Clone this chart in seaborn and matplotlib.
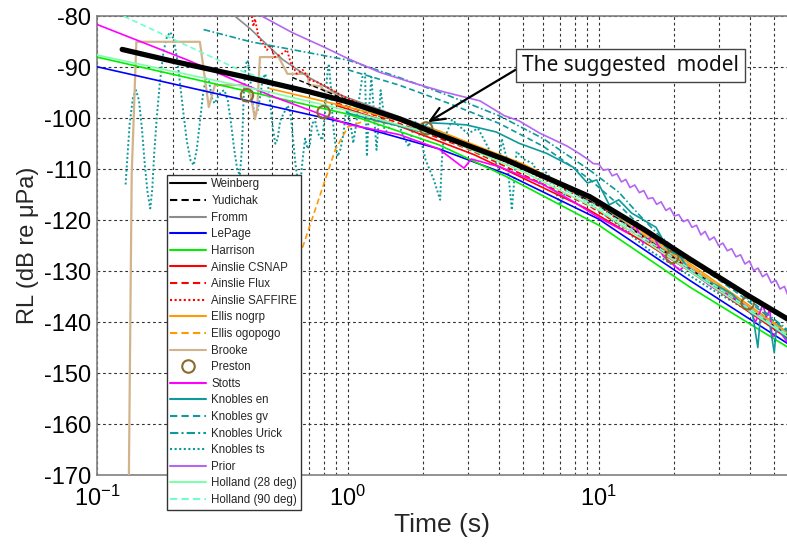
import numpy as np
import pandas as pd
import matplotlib
matplotlib.use("Agg")
import matplotlib.pyplot as plt
import seaborn as sns
from matplotlib.lines import Line2D
from matplotlib.ticker import LogLocator, NullFormatter

# ---------------- data (time in s, RL in dB) ----------------
weinberg_t = [0.126, 0.2, 0.407, 0.7, 1.0, 1.6, 2.32, 4.28, 9.2, 15, 23, 40, 56.5]
weinberg_rl = [-86.5, -88.8, -92.1, -94.8, -96.8, -100.1, -103.3, -108.2, -115.4, -121.7, -127.6, -135.0, -139.4]

yudichak_t = [0.6, 1.0, 2.0, 5.0, 10, 23, 56.5]
yudichak_rl = [-92.0, -96.5, -101.5, -109.5, -117.2, -129.5, -142.6]

fromm_t = [0.355, 0.407, 0.55, 0.7, 0.928, 1.5, 2.3, 5.0, 10, 23, 56.5]
fromm_rl = [-80.0, -82.4, -88.5, -92.0, -95.4, -99.2, -102.5, -109.5, -117.0, -129.5, -142.5]

lepage_t = [0.1, 1.0, 2.3, 4.3, 10, 23, 56.5]
lepage_rl = [-89.9, -101.0, -106.0, -111.0, -119.8, -131.8, -144.2]

harrison_t = [0.1, 1.0, 2.3, 4.3, 10, 23, 56.5]
harrison_rl = [-88.0, -99.2, -105.2, -111.5, -121.0, -133.1, -144.9]

csnap_t = [0.9, 1.5, 3.2, 9.0, 16, 23, 56.5]
csnap_rl = [-97.5, -101.0, -107.2, -117.8, -125.0, -130.0, -143.2]

flux_t = [0.9, 1.5, 3.0, 9.0, 16, 23, 56.5]
flux_rl = [-97.0, -100.5, -106.0, -117.0, -124.5, -129.5, -142.8]

saffire_t = [0.414, 0.42, 0.426, 0.44, 0.476, 0.49, 0.51, 0.54, 0.572, 0.59, 0.626, 0.66,
             0.706, 0.76, 0.848, 0.964, 1.5, 2.3, 5.0, 10, 23, 56.5]
saffire_rl = [-80.0, -82.0, -80.5, -84.0, -86.6, -85.5, -88.0, -87.5, -86.6, -89.0, -91.3, -90.5,
              -92.5, -93.0, -94.2, -95.8, -99.8, -103.2, -110.0, -117.3, -129.5, -143.0]

nogrp_t = [0.489, 1.0, 2.3, 5.0, 10, 23, 56.5]
nogrp_rl = [-94.2, -97.8, -102.5, -109.0, -116.5, -128.5, -142.0]

ogopogo_t = [0.342, 0.66, 0.89, 1.0, 1.2, 2.3, 5.0, 10, 23, 56.5]
ogopogo_rl = [-170.0, -125.3, -106.2, -101.7, -100.3, -103.0, -109.5, -117.0, -129.0, -142.5]

brooke_t = [0.134, 0.1375, 0.1435, 0.257, 0.279, 0.295, 0.385, 0.41, 0.426, 0.435, 0.446, 0.53,
            0.574, 0.69, 0.70, 0.78, 0.80, 0.93, 1.0, 1.5, 2.3, 5.0, 10, 23, 56.5]
brooke_rl = [-170.0, -111.0, -85.0, -85.0, -97.8, -93.5, -93.5, -95.5, -100.2, -98.0, -88.0, -88.0,
             -91.3, -91.3, -93.5, -93.7, -94.5, -95.4, -96.5, -100.0, -103.0, -109.8, -117.0, -129.0, -142.3]

preston_t = [0.396, 0.8, 2.05, 19.6, 39.2]
preston_rl = [-95.5, -98.8, -102.0, -127.2, -136.3]

stotts_t = [0.1, 0.23, 0.5, 1.0, 1.6, 2.3, 2.9, 3.1, 4.0, 6.0, 8.0, 10, 13, 14, 15, 16.5, 18, 21,
            22, 28, 35, 40, 42, 43.5, 45, 46.5, 48, 49, 52, 56.5]
stotts_rl = [-81.6, -88.6, -95.7, -101.2, -103.2, -106.0, -109.8, -108.0, -109.5, -113.0, -116.5,
             -119.5, -122.5, -121.0, -124.5, -123.0, -127.0, -129.8, -129.0, -133.0, -135.5, -137.5,
             -140.0, -138.5, -136.5, -139.0, -137.5, -143.0, -141.5, -144.0]

ken_t = [1.0, 1.3, 1.6, 1.9, 2.1, 2.6, 2.96, 3.4, 3.9, 4.8, 6.2, 7.9, 9.0, 9.8, 11.0, 12.0, 13.5,
         16.9, 19, 21, 23, 26, 30, 34, 38, 41, 43, 44, 48, 50, 51, 56.5]
ken_rl = [-99.0, -100.5, -101.5, -102.5, -100.9, -101.1, -101.3, -102.0, -102.7, -104.9, -106.9,
          -109.6, -112.7, -112.1, -117.0, -116.0, -118.6, -121.4, -126.0, -127.0, -130.0, -131.5,
          -133.0, -134.5, -137.0, -138.5, -145.0, -139.0, -140.5, -146.0, -141.0, -143.5]

kgv_t = [1.0, 1.6, 2.5, 4.0, 6.0, 9.2, 12, 16, 20, 25, 35, 56.5]
kgv_rl = [-90.5, -93.5, -97.0, -101.0, -105.5, -112.0, -117.0, -123.0, -126.5, -129.0, -134.0, -141.8]

kurick_t = [0.266, 0.41, 1.0, 1.6, 2.5, 4.0, 6.0, 9.2, 12, 14.5, 17, 20, 25, 35, 56.5]
kurick_rl = [-82.6, -85.0, -88.6, -92.0, -95.5, -99.5, -104.0, -110.2, -114.5, -119.0, -122.5,
             -125.5, -128.5, -133.5, -141.5]

kts_t = [0.130, 0.132, 0.135, 0.139, 0.143, 0.147, 0.151, 0.155, 0.159, 0.163, 0.166, 0.169,
         0.173, 0.178, 0.184, 0.190, 0.196, 0.202, 0.208, 0.214, 0.221, 0.228, 0.236, 0.243,
         0.250, 0.258, 0.265, 0.272, 0.279, 0.287, 0.294, 0.302, 0.312, 0.322, 0.332, 0.342,
         0.352, 0.362, 0.371, 0.378, 0.384, 0.391, 0.398, 0.406, 0.415, 0.426, 0.436, 0.446,
         0.457, 0.468, 0.479, 0.490, 0.502, 0.514, 0.525, 0.537, 0.549, 0.562, 0.576, 0.59,
         0.604, 0.618, 0.632, 0.645, 0.66, 0.675, 0.69, 0.706, 0.72, 0.74, 0.76, 0.79, 0.81,
         0.825, 0.84, 0.855, 0.87, 0.89, 0.91, 0.935, 0.96, 0.98, 1.0, 1.03, 1.05, 1.08, 1.11,
         1.14, 1.17, 1.18, 1.19, 1.21, 1.24, 1.27, 1.30, 1.33, 1.35, 1.38, 1.40, 1.5, 1.61,
         1.68, 1.75, 1.85, 1.95, 2.04, 2.2, 2.33, 2.37, 2.4, 2.6, 3.0, 3.3, 3.6, 4.0, 4.1, 4.3,
         4.5, 4.7, 5.0, 5.5, 5.8, 6.0, 6.5, 7.0, 7.5, 9.0, 12, 16, 20, 28, 40, 56.5]
kts_rl = [-113.0, -108.0, -101.0, -96.0, -94.5, -96.5, -102.0, -109.0, -114.5, -117.7, -114.0,
          -107.0, -100.0, -93.0, -87.0, -84.0, -83.1, -84.5, -88.0, -93.0, -99.0, -104.5, -108.3,
          -109.2, -106.0, -100.0, -95.0, -92.2, -92.5, -96.0, -97.1, -96.0, -94.8, -94.5, -96.5,
          -101.0, -106.0, -110.0, -111.2, -106.0, -96.0, -89.5, -88.6, -91.0, -96.4, -99.8, -98.5,
          -96.0, -92.5, -91.3, -93.0, -97.0, -102.0, -105.0, -104.0, -100.5, -99.5, -98.5, -97.5,
          -99.0, -104.0, -109.0, -112.5, -113.4, -108.0, -104.0, -106.0, -105.0, -101.0, -100.5,
          -103.0, -104.3, -99.0, -92.0, -89.3, -94.0, -100.5, -105.0, -107.5, -106.0, -103.0,
          -99.0, -98.4, -102.0, -104.9, -101.0, -96.0, -92.0, -91.2, -99.0, -107.5, -99.0, -91.9,
          -99.0, -106.2, -100.0, -94.5, -98.0, -103.0, -101.0, -101.7, -104.0, -105.6, -100.5,
          -104.0, -108.2, -112.1, -116.0, -108.0, -104.5, -100.3, -103.0, -102.0, -105.5, -110.0,
          -104.0, -108.0, -118.0, -106.5, -108.0, -109.0, -113.0, -110.0, -112.0, -117.0, -113.5,
          -116.5, -121.0, -126.0, -129.0, -133.5, -138.0, -143.0]

prior_t = [0.455, 0.6, 0.8, 1.0, 1.34, 1.8, 2.4, 3.36, 4.2, 4.8, 5.8, 6.6, 7.5, 8.4,
           9.0, 9.5, 10.0, 10.4, 10.9, 11.3, 11.8, 12.3, 12.8, 13.3, 13.9, 14.5, 15.1, 15.7, 16.4,
           17.0, 17.7, 18.5, 19.2, 20.0, 20.8, 21.7, 22.6, 23.5, 24.5, 25.5, 26.5, 27.6, 28.8,
           30.0, 31.2, 32.5, 33.8, 35.2, 36.7, 38.2, 39.8, 41.4, 43.1, 44.9, 46.7, 48.7, 50.7,
           52.7, 54.9, 56.5]
prior_rl = [-80.0, -83.2, -86.0, -88.3, -91.0, -93.0, -94.8, -96.6, -99.5, -100.5, -102.9, -104.2,
            -105.5, -107.0, -108.0, -108.9, -109.0, -110.2, -110.0, -111.3, -110.9, -112.5, -112.0,
            -113.6, -113.1, -114.6, -114.2, -115.8, -115.6, -116.9, -116.4, -118.1, -117.6, -119.2,
            -118.9, -120.3, -119.9, -121.4, -121.0, -122.9, -122.2, -123.9, -123.3, -125.0, -124.5,
            -126.0, -125.6, -127.2, -126.8, -128.6, -128.0, -129.9, -129.4, -131.1, -130.5, -132.3,
            -131.8, -133.5, -133.0, -134.6]

h28_t = [0.1, 0.5, 1.0, 2.3, 5.0, 10, 23, 56.5]
h28_rl = [-87.6, -95.0, -98.5, -103.5, -110.5, -118.0, -130.0, -142.8]

h90_t = [0.128, 0.384, 0.7, 1.0, 2.3, 5.0, 10, 23, 56.5]
h90_rl = [-80.0, -90.9, -95.0, -97.3, -102.8, -109.8, -117.5, -129.5, -142.5]

x_ticks = [0.1, 1, 10]
y_ticks = [-80, -90, -100, -110, -120, -130, -140, -150, -160, -170]

# ---------------- style ----------------
sns.set_style("white")
plt.rcParams['font.family'] = ['Liberation Sans', 'DejaVu Sans']
plt.rcParams['mathtext.fontset'] = 'custom'
plt.rcParams['mathtext.rm'] = 'Liberation Sans'
plt.rcParams['mathtext.it'] = 'Liberation Sans:italic'
plt.rcParams['mathtext.bf'] = 'Liberation Sans:bold'
plt.rcParams['axes.unicode_minus'] = False

TEAL = '#0e9a9a'
DASH = (0, (3.5, 2))
DOT = (0, (1, 1.2))
DASHDOT = (0, (4, 1.5, 1, 1.5))

# name, t, rl, color, linestyle, lw, zorder
series = [
    ("Knobles ts", kts_t, kts_rl, TEAL, DOT, 1.4, 2),
    ("Brooke", brooke_t, brooke_rl, '#d2b48c', '-', 1.6, 3),
    ("Ellis ogopogo", ogopogo_t, ogopogo_rl, '#ff9900', DASH, 1.2, 3),
    ("Fromm", fromm_t, fromm_rl, '#8c8c8c', '-', 1.2, 3),
    ("Ainslie SAFFIRE", saffire_t, saffire_rl, '#ff0000', DOT, 1.3, 3),
    ("Ainslie Flux", flux_t, flux_rl, '#ff0000', DASH, 1.2, 3),
    ("Ainslie CSNAP", csnap_t, csnap_rl, '#ff0000', '-', 1.2, 3),
    ("Yudichak", yudichak_t, yudichak_rl, '#000000', DASH, 1.0, 3),
    ("LePage", lepage_t, lepage_rl, '#0000ff', '-', 1.2, 4),
    ("Harrison", harrison_t, harrison_rl, '#00ee00', '-', 1.2, 4),
    ("Ellis nogrp", nogrp_t, nogrp_rl, '#ff9900', '-', 1.2, 4),
    ("Stotts", stotts_t, stotts_rl, '#ff00ff', '-', 1.2, 4),
    ("Knobles en", ken_t, ken_rl, TEAL, '-', 1.2, 4),
    ("Knobles gv", kgv_t, kgv_rl, TEAL, DASH, 1.2, 4),
    ("Knobles Urick", kurick_t, kurick_rl, TEAL, DASHDOT, 1.2, 4),
    ("Holland (28 deg)", h28_t, h28_rl, '#80ffaa', '-', 1.2, 5),
    ("Holland (90 deg)", h90_t, h90_rl, '#70ffcc', DASH, 1.2, 5),
    ("Prior", prior_t, prior_rl, '#b366f0', '-', 1.2, 5),
    ("Weinberg", weinberg_t, weinberg_rl, '#000000', '-', 3.8, 9),
]

fig = plt.figure(figsize=(7.87, 5.48), dpi=100)
ax = fig.add_axes([97 / 787, 1 - 475 / 548, 1 - 97 / 787, (475 - 16.3) / 548])
ax.set_xscale('log')

for name, t, rl, col, ls, lw, z in series:
    df = pd.DataFrame({'t': t, 'rl': rl})
    sns.lineplot(data=df, x='t', y='rl', ax=ax, color=col, linestyle=ls, linewidth=lw,
                 sort=False, estimator=None, zorder=z, legend=False)

pdf = pd.DataFrame({'t': preston_t, 'rl': preston_rl})
sns.scatterplot(data=pdf, x='t', y='rl', ax=ax, marker='o', s=80, facecolor='none',
                edgecolor='#8b6a2a', linewidth=1.5, zorder=8, legend=False)

ax.set_xlim(0.1, 56.2)
ax.set_ylim(-170, -80)
ax.set_xticks(x_ticks)
ax.xaxis.set_minor_locator(LogLocator(base=10, subs=np.arange(2, 10)))
ax.xaxis.set_minor_formatter(NullFormatter())
ax.set_yticks(y_ticks)

gridkw = dict(color='#333333', linestyle=(0, (2.5, 2.5)), linewidth=0.8)
ax.grid(True, which='major', axis='both', **gridkw)
ax.grid(True, which='minor', axis='x', **gridkw)
ax.set_axisbelow(True)

for s in ['left', 'bottom', 'top']:
    ax.spines[s].set_color('#808080')
    ax.spines[s].set_linewidth(1.2)
ax.spines['right'].set_visible(False)

ax.tick_params(axis='both', which='major', labelsize=17, direction='in', length=0, colors='#222222')
ax.tick_params(axis='x', which='major', pad=8)
ax.tick_params(axis='y', which='major', pad=4)
ax.tick_params(axis='x', which='minor', length=0)
for lab in ax.get_xticklabels() + ax.get_yticklabels():
    lab.set_color('black')

ax.set_xlabel('Time (s)', fontsize=19, labelpad=1)
ax.set_ylabel('RL (dB re μPa)', fontsize=17, labelpad=4)

# legend
legend_order = ["Weinberg", "Yudichak", "Fromm", "LePage", "Harrison", "Ainslie CSNAP",
                "Ainslie Flux", "Ainslie SAFFIRE", "Ellis nogrp", "Ellis ogopogo", "Brooke",
                "Preston", "Stotts", "Knobles en", "Knobles gv", "Knobles Urick", "Knobles ts",
                "Prior", "Holland (28 deg)", "Holland (90 deg)"]
style_map = {name: (col, ls) for name, t, rl, col, ls, lw, z in series}
handles = []
for name in legend_order:
    if name == "Preston":
        handles.append(Line2D([], [], linestyle='none', marker='o', markersize=9,
                              markerfacecolor='none', markeredgecolor='#8b6a2a',
                              markeredgewidth=1.5))
    else:
        col, ls = style_map[name]
        handles.append(Line2D([], [], color=col, linestyle=ls, linewidth=1.5))
leg = ax.legend(handles, legend_order, loc='upper left',
                bbox_to_anchor=(167 / 787, 1 - 175 / 548), bbox_transform=fig.transFigure,
                fontsize=8.3, frameon=True, fancybox=False, framealpha=1, edgecolor='#333333',
                handlelength=3.1, handletextpad=0.45, labelspacing=0.40, borderpad=0.3,
                borderaxespad=0)
leg.get_frame().set_linewidth(1.0)
leg.set_zorder(100)

ann = ax.annotate("The suggested  model", xy=(2.08, -100.8), xytext=(13.4, -89.7),
                  textcoords='data', ha='center', va='center', fontsize=15,
                  family=['Noto Sans', 'DejaVu Sans'], color='#111111',
                  bbox=dict(boxstyle='square,pad=0.3', fc='white', ec='#444444', lw=1.0),
                  arrowprops=dict(arrowstyle='->,head_length=0.7,head_width=0.3', color='black',
                                  lw=1.6, relpos=(0, 0.5), shrinkA=0, shrinkB=0),
                  zorder=50)

fig.savefig('out.png', dpi=100)
